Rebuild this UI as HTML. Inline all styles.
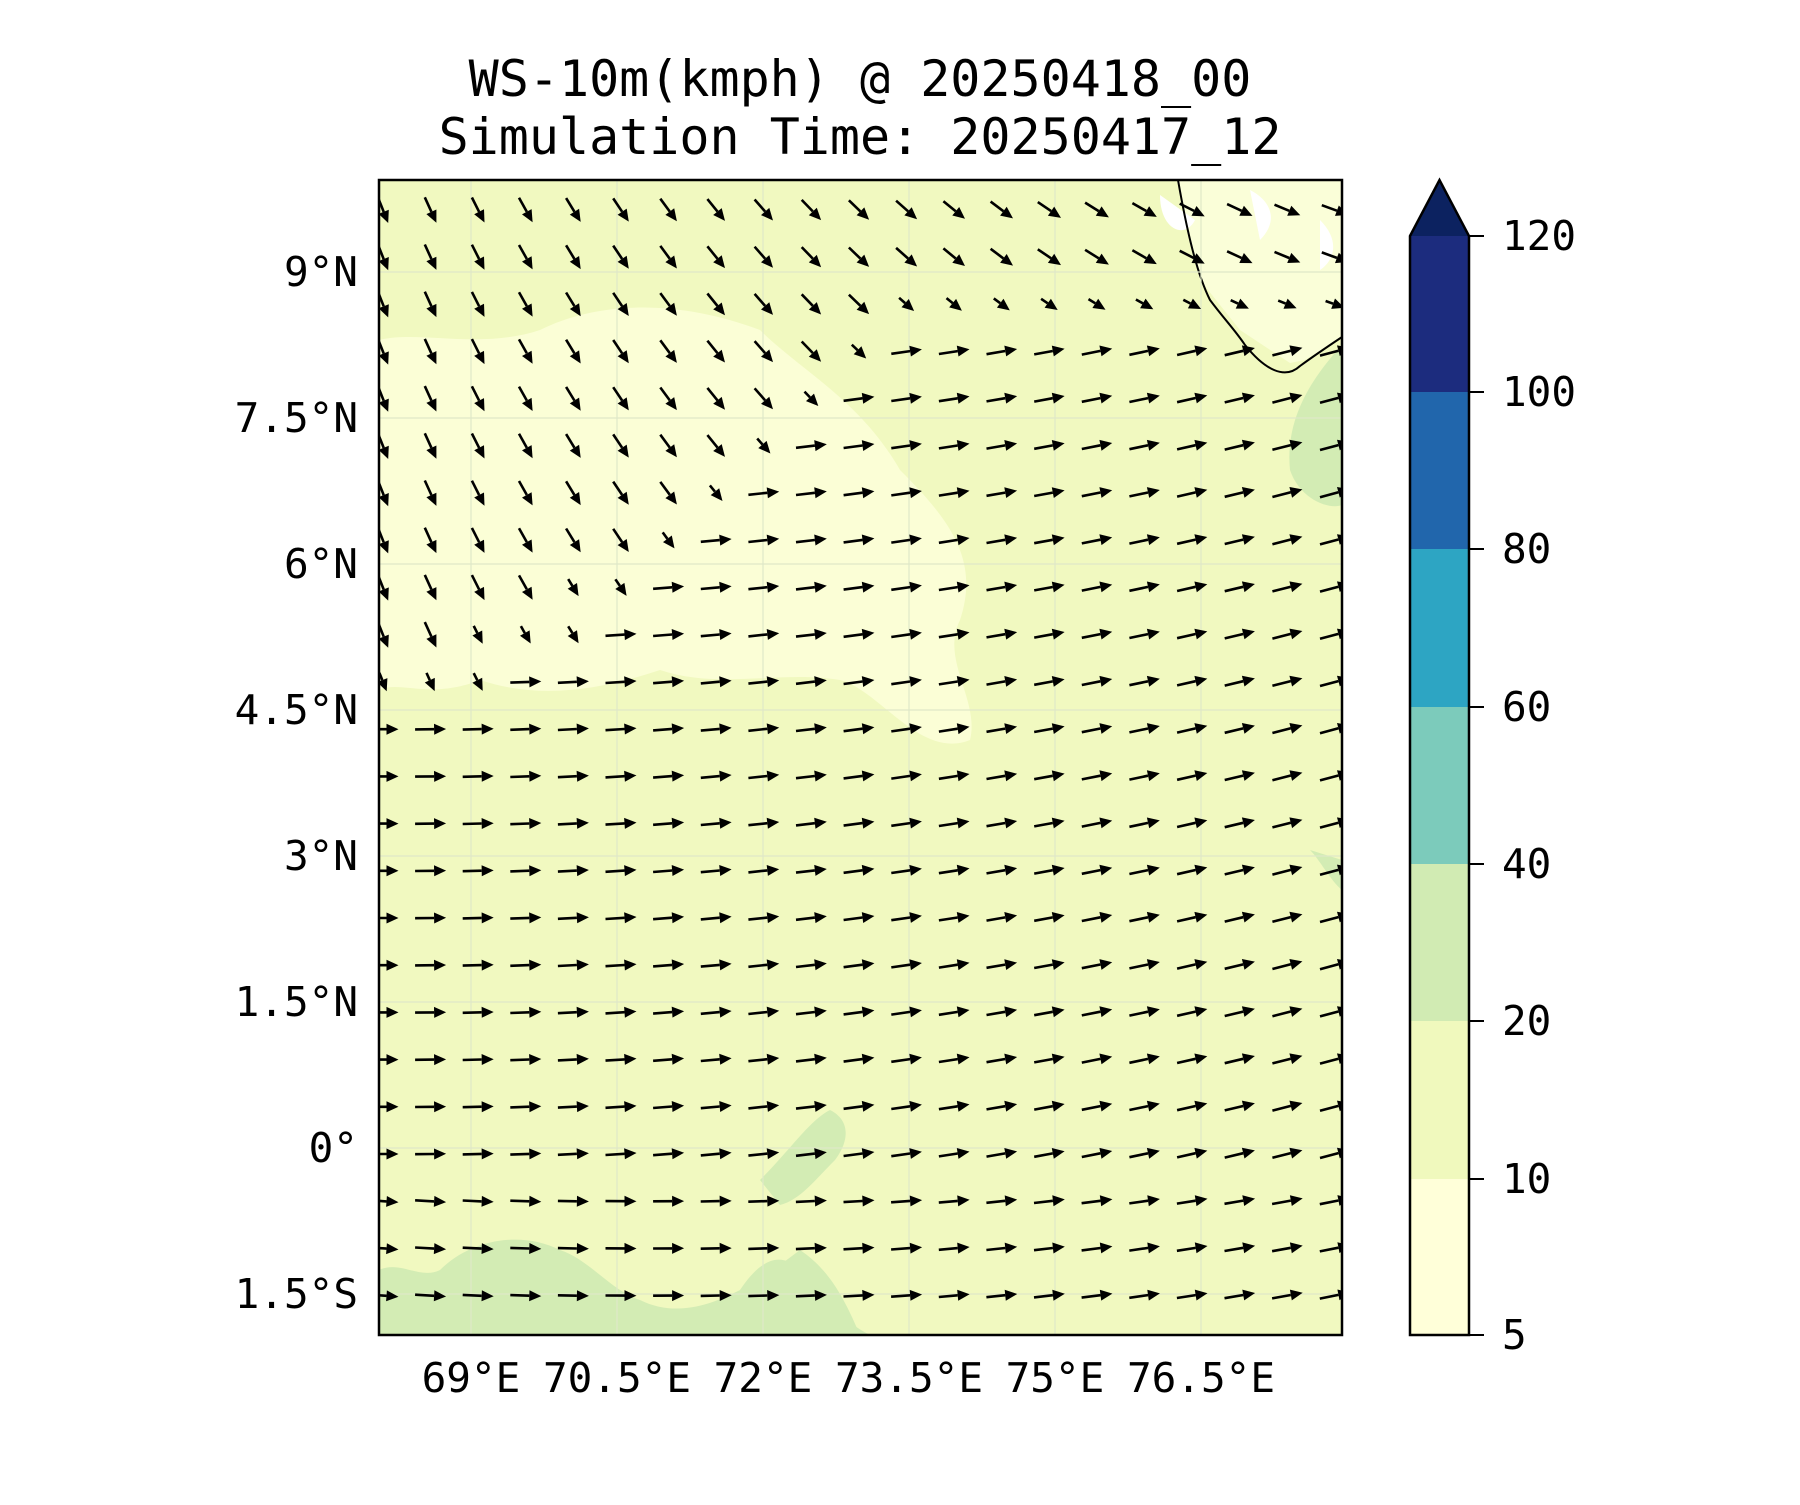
<!DOCTYPE html>
<html><head><meta charset="utf-8"><style>
body{margin:0;background:#fff}
svg text{font-family:"DejaVu Sans Mono","Liberation Mono",monospace;fill:#000}
</style></head><body>
<svg id="s" width="1800" height="1500" viewBox="0 0 1800 1500" xmlns="http://www.w3.org/2000/svg">
<defs><clipPath id="c"><rect x="379" y="180" width="963" height="1155"/></clipPath></defs>
<text x="860" y="96" font-size="50" text-anchor="middle">WS-10m(kmph) @ 20250418_00</text>
<text x="860" y="154" font-size="50" text-anchor="middle">Simulation Time: 20250417_12</text>
<g clip-path="url(#c)">
<rect x="379" y="180" width="963" height="1155" fill="#f1f9c0"/>
<path d="M379,340 C420,330 480,350 540,330 C600,300 680,300 760,330 C800,370 860,400 900,470 C950,520 980,560 960,620 C940,660 980,700 970,740 C920,760 880,690 840,680 C780,670 720,690 660,670 C600,690 540,700 480,680 C430,700 400,680 379,690 Z" fill="#fbfed6"/>
<path d="M1178,180 L1200,280 L1240,330 L1290,363 L1305,360 L1342,337 L1342,180 Z" fill="#fafed8"/>
<path d="M1160,195 C1160,230 1185,240 1195,220 Z M1250,190 C1270,200 1280,220 1260,240 Z M1320,220 C1340,240 1335,260 1320,270 Z" fill="#fff"/>
<path d="M1342,345 C1310,380 1285,420 1290,470 C1300,500 1330,510 1342,505 Z" fill="#d3ecb4"/>
<path d="M379,1270 C400,1260 420,1280 440,1270 C470,1240 520,1230 560,1250 C590,1260 610,1290 640,1300 C680,1320 720,1300 740,1290 C760,1260 780,1250 800,1270 C830,1300 840,1320 870,1335 L379,1335 Z" fill="#d3ecb4"/>
<path d="M680,1335 C720,1310 760,1280 800,1250 C830,1270 845,1300 860,1335 Z" fill="#d3ecb4"/>
<path d="M760,1180 C790,1150 810,1120 830,1110 C850,1120 850,1140 835,1160 C815,1180 800,1200 780,1205 Z" fill="#d3ecb4"/>
<path d="M1310,850 C1320,860 1330,880 1342,890 L1342,860 Z" fill="#d3ecb4"/>
<path d="M1178,180 C1185,220 1195,270 1210,300 C1225,320 1235,330 1245,345 C1265,370 1285,380 1300,366 C1315,355 1330,345 1342,337" fill="none" stroke="#000" stroke-width="2"/>
<g stroke="#dfe8c8" stroke-width="1.2">
<line x1="471" y1="180" x2="471" y2="1335"/><line x1="617" y1="180" x2="617" y2="1335"/><line x1="763" y1="180" x2="763" y2="1335"/><line x1="909" y1="180" x2="909" y2="1335"/><line x1="1055" y1="180" x2="1055" y2="1335"/><line x1="1201" y1="180" x2="1201" y2="1335"/>
<line x1="379" y1="272" x2="1342" y2="272"/><line x1="379" y1="418" x2="1342" y2="418"/><line x1="379" y1="564" x2="1342" y2="564"/><line x1="379" y1="710" x2="1342" y2="710"/><line x1="379" y1="856" x2="1342" y2="856"/><line x1="379" y1="1002" x2="1342" y2="1002"/><line x1="379" y1="1148" x2="1342" y2="1148"/><line x1="379" y1="1294" x2="1342" y2="1294"/>
</g>
<g id="arr" fill="#000" stroke="#000"></g>
</g>
<rect x="379" y="180" width="963" height="1155" fill="none" stroke="#000" stroke-width="2.5"/>
<g font-size="41" text-anchor="end">
<text x="358" y="286">9°N</text><text x="358" y="432">7.5°N</text><text x="358" y="578">6°N</text><text x="358" y="724">4.5°N</text><text x="358" y="870">3°N</text><text x="358" y="1016">1.5°N</text><text x="358" y="1162">0°</text><text x="358" y="1308">1.5°S</text>
</g>
<g font-size="41" text-anchor="middle">
<text x="471" y="1392">69°E</text><text x="617" y="1392">70.5°E</text><text x="763" y="1392">72°E</text><text x="909" y="1392">73.5°E</text><text x="1055" y="1392">75°E</text><text x="1201" y="1392">76.5°E</text>
</g>
<rect x="1410" y="1179" width="59" height="156" fill="#ffffd9"/>
<rect x="1410" y="1021" width="59" height="158" fill="#f0f9bd"/>
<rect x="1410" y="864" width="59" height="157" fill="#d1ebb3"/>
<rect x="1410" y="707" width="59" height="157" fill="#7ccbbb"/>
<rect x="1410" y="549" width="59" height="158" fill="#2da5c3"/>
<rect x="1410" y="392" width="59" height="157" fill="#2166ac"/>
<rect x="1410" y="236" width="59" height="156" fill="#1c2c7e"/>
<path d="M1410,236 L1439.5,180 L1469,236 Z" fill="#0c2260"/>
<path d="M1410,236 L1439.5,180 L1469,236 L1469,1335 L1410,1335 Z" fill="none" stroke="#000" stroke-width="2.5"/>
<g stroke="#000" stroke-width="2">
<line x1="1469" y1="1335" x2="1484" y2="1335"/><line x1="1469" y1="1179" x2="1484" y2="1179"/><line x1="1469" y1="1021" x2="1484" y2="1021"/><line x1="1469" y1="864" x2="1484" y2="864"/><line x1="1469" y1="707" x2="1484" y2="707"/><line x1="1469" y1="549" x2="1484" y2="549"/><line x1="1469" y1="392" x2="1484" y2="392"/><line x1="1469" y1="236" x2="1484" y2="236"/>
</g>
<g font-size="41">
<text x="1502" y="1349">5</text><text x="1502" y="1193">10</text><text x="1502" y="1035">20</text><text x="1502" y="878">40</text><text x="1502" y="721">60</text><text x="1502" y="563">80</text><text x="1502" y="406">100</text><text x="1502" y="250">120</text>
</g>
</svg>
<script>
var g=document.getElementById('arr'),h='';
for(var i=0;i<24;i++){for(var j=0;j<21;j++){
 var x=383+j*47.6,y=210+i*47.2;
 var b=j<=5?11-0.4*j:Math.max(3,9-(j-5)*1.0);
 var a,L;
 if(i<b){a=(68-j*2.4)*Math.PI/180;L=28;}
 else{a=(-(j/20)*15+(i>20?4:0))*Math.PI/180;L=31;}
 if(i<b && i>b-1.5){L=20;}
 var dx=Math.cos(a)*L,dy=Math.sin(a)*L;
 var x0=x-dx/2,y0=y-dy/2,x1=x+dx/2,y1=y+dy/2;
 var ux=dx/L,uy=dy/L,hx=x1-ux*12,hy=y1-uy*12;
 h+='<line x1="'+x0.toFixed(1)+'" y1="'+y0.toFixed(1)+'" x2="'+hx.toFixed(1)+'" y2="'+hy.toFixed(1)+'" stroke-width="2.6"/>';
 h+='<polygon stroke="none" points="'+x1.toFixed(1)+','+y1.toFixed(1)+' '+(hx-uy*5.5).toFixed(1)+','+(hy+ux*5.5).toFixed(1)+' '+(hx+uy*5.5).toFixed(1)+','+(hy-ux*5.5).toFixed(1)+'"/>';
}}
g.innerHTML=h;
</script>
</body></html>
